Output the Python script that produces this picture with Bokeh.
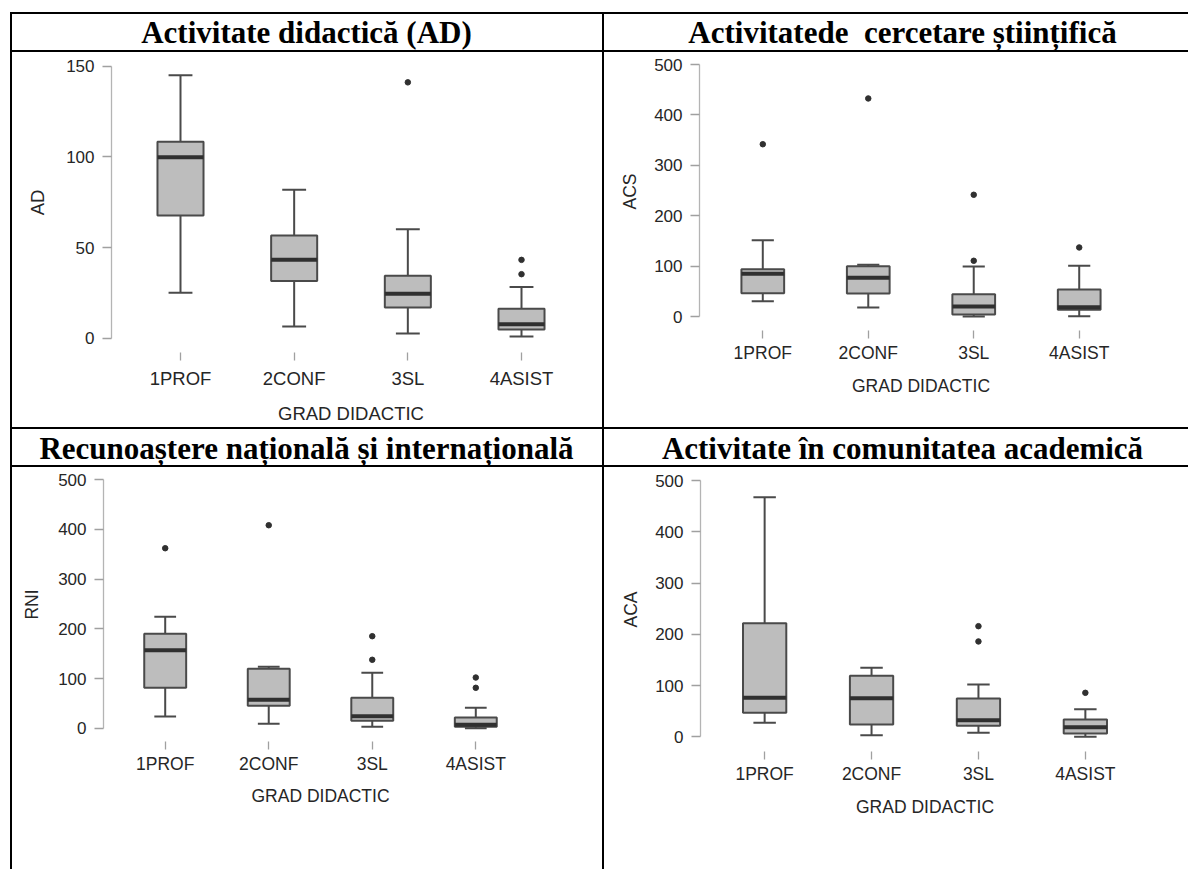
from bokeh.plotting import figure
from bokeh.models import FactorRange, Range1d, FixedTicker, ColumnDataSource, Div, Spacer
from bokeh.layouts import row, column
from bokeh.transform import dodge
from bokeh.embed import file_html
from bokeh.resources import INLINE
from bokeh.core.properties import value

# ---------------- data ----------------
categories = ["1PROF", "2CONF", "3SL", "4ASIST"]
x_label = "GRAD DIDACTIC"
titles = ["Activitate didactică (AD)",
          "Activitatede \u00a0cercetare științifică",
          "Recunoaștere națională și internațională",
          "Activitate în comunitatea academică"]
y_labels = ["AD", "ACS", "RNI", "ACA"]
y_ticks_ad = [0, 50, 100, 150]
y_ticks_500 = [0, 100, 200, 300, 400, 500]

# AD
ad_low = [25.0, 6.4, 2.6, 0.9]
ad_q1 = [67.6, 31.6, 16.9, 4.8]
ad_med = [99.8, 43.2, 24.5, 7.7]
ad_q3 = [108.3, 56.6, 34.4, 16.2]
ad_up = [145.0, 81.8, 60.1, 28.3]
ad_out_cat = ["3SL", "4ASIST", "4ASIST"]
ad_out_val = [141.1, 43.2, 35.3]

# ACS
acs_low = [30.9, 18.4, 0.6, 1.2]
acs_q1 = [46.8, 46.2, 4.6, 13.9]
acs_med = [85.2, 77.3, 20.4, 19.0]
acs_q3 = [94.4, 100.0, 44.8, 54.1]
acs_up = [151.8, 103.0, 99.7, 101.0]
acs_out_cat = ["1PROF", "2CONF", "3SL", "3SL", "4ASIST"]
acs_out_val = [342.0, 432.7, 241.8, 111.0, 137.4]

# RNI
rni_low = [23.5, 8.9, 2.8, 0.0]
rni_q1 = [81.3, 45.1, 14.9, 3.0]
rni_med = [157.0, 57.2, 24.2, 7.0]
rni_q3 = [190.0, 119.6, 61.2, 21.5]
rni_up = [224.2, 123.6, 111.5, 41.0]
rni_out_cat = ["1PROF", "2CONF", "3SL", "3SL", "4ASIST", "4ASIST"]
rni_out_val = [362.3, 408.6, 185.2, 137.7, 102.0, 81.3]

# ACA
aca_low = [27.3, 3.1, 7.8, 0.0]
aca_q1 = [46.8, 24.0, 21.5, 6.4]
aca_med = [76.1, 75.3, 32.4, 18.7]
aca_q3 = [221.6, 119.0, 74.7, 33.8]
aca_up = [467.5, 134.6, 102.0, 53.9]
aca_out_cat = ["3SL", "3SL", "4ASIST"]
aca_out_val = [215.8, 186.0, 85.8]

# ---------------- styles ----------------
BOX_FILL = "#bdbdbd"
BOX_LINE = "#4a4a4a"
MED_LINE = "#303030"
TEXT = "#262626"
AXIS_LINE = "#b4b4b4"
TICK_LINE = "#a0a0a0"
BOX_W = 0.405
CAP_W = 0.21
SANS = "Liberation Sans"
SERIF = "Liberation Serif"


def make_panel(low, q1, med, q3, up, out_cat, out_val, ylab, ticks, geo):
    p = figure(width=geo["w"], height=geo["h"],
               x_range=FactorRange(factors=categories, range_padding=geo["pad"],
                                   range_padding_units="absolute"),
               y_range=Range1d(geo["y0"], geo["y1"]),
               output_backend="svg", toolbar_location=None, tools="",
               min_border_left=geo["bl"], min_border_right=geo["br"],
               min_border_top=0, min_border_bottom=geo["bb"],
               outline_line_color=None, background_fill_color="white",
               border_fill_color="white")
    p.xgrid.visible = False
    p.ygrid.visible = False
    src = ColumnDataSource(dict(cat=categories, low=low, q1=q1, med=med, q3=q3, up=up))
    p.segment(x0="cat", y0="q3", x1="cat", y1="up", source=src, line_color=BOX_LINE, line_width=2)
    p.segment(x0="cat", y0="low", x1="cat", y1="q1", source=src, line_color=BOX_LINE, line_width=2)
    for key in ("up", "low"):
        p.segment(x0=dodge("cat", -CAP_W / 2, range=p.x_range), y0=key,
                  x1=dodge("cat", CAP_W / 2, range=p.x_range), y1=key,
                  source=src, line_color=BOX_LINE, line_width=2)
    p.vbar(x="cat", width=BOX_W, bottom="q1", top="q3", source=src,
           fill_color=BOX_FILL, line_color=BOX_LINE, line_width=2)
    p.segment(x0=dodge("cat", -BOX_W / 2, range=p.x_range), y0="med",
              x1=dodge("cat", BOX_W / 2, range=p.x_range), y1="med",
              source=src, line_color=MED_LINE, line_width=4)
    p.scatter(x=out_cat, y=out_val, size=5.5, color=MED_LINE)

    ya = p.yaxis[0]
    ya.ticker = FixedTicker(ticks=ticks)
    ya.bounds = (ticks[0], ticks[-1])
    ya.axis_line_color = AXIS_LINE
    ya.axis_line_width = 1.3
    ya.major_tick_line_color = TICK_LINE
    ya.major_tick_line_width = 1.3
    ya.major_tick_out = 9
    ya.major_tick_in = 0
    ya.minor_tick_out = 0
    ya.minor_tick_in = 0
    ya.major_label_standoff = 8
    ya.major_label_text_font = SANS
    ya.major_label_text_font_size = "17px"
    ya.major_label_text_color = TEXT
    ya.axis_label = ylab
    ya.axis_label_text_font = SANS
    ya.axis_label_text_font_style = "normal"
    ya.axis_label_text_font_size = geo["fs"]
    ya.axis_label_text_color = TEXT
    ya.axis_label_standoff = geo["ys"]

    xa = p.xaxis[0]
    xa.axis_line_color = None
    xa.major_tick_line_color = TICK_LINE
    xa.major_tick_line_width = 1.3
    xa.major_tick_out = 8
    xa.major_tick_in = 0
    xa.minor_tick_out = 0
    xa.major_label_standoff = geo["ls"]
    xa.major_label_text_font = SANS
    xa.major_label_text_font_size = geo["fs"]
    xa.major_label_text_color = TEXT
    xa.axis_label = x_label
    xa.axis_label_text_font = SANS
    xa.axis_label_text_font_style = "normal"
    xa.axis_label_text_font_size = geo["fs"]
    xa.axis_label_text_color = TEXT
    xa.axis_label_standoff = geo["xs"]
    return p


def make_title(text, w, h, cx, cy):
    t = figure(width=w, height=h, x_range=Range1d(0, w), y_range=Range1d(0, h),
               output_backend="svg", toolbar_location=None, tools="",
               min_border=0, x_axis_location=None, y_axis_location=None,
               outline_line_color=None, background_fill_color="white",
               border_fill_color="white")
    t.grid.visible = False
    t.text(x=[cx], y=[cy], text=[text], text_font=value(SERIF), text_font_style="bold",
           text_font_size="31px", text_align="center", text_baseline="middle",
           text_color="black")
    return t


def line_div(w, h):
    return Div(text="", width=w, height=h, margin=0,
               styles={"background-color": "#000000"})


W1, W2 = 590, 584
HT = 36
H1, H2 = 375, 402
LW = 2
TOTAL = LW + W1 + LW + W2

geo1 = dict(w=W1, h=H1, pad=0.107, y0=-7.89, y1=157.56, bl=99, br=12, bb=75, fs="18.5px", ys=15, ls=7, xs=11)
geo2 = dict(w=W2, h=H1, pad=0.10, y0=-27.2, y1=523.8, bl=95, br=46, bb=97, fs="17.5px", ys=11, ls=4, xs=10)
geo3 = dict(w=W1, h=H2, pad=0.096, y0=-26.8, y1=524.8, bl=91, br=65, bb=128, fs="17.5px", ys=13, ls=4, xs=9)
geo4 = dict(w=W2, h=H2, pad=0.10, y0=-28.7, y1=525.4, bl=96, br=39, bb=118, fs="17.5px", ys=11, ls=4, xs=10)

p1 = make_panel(ad_low, ad_q1, ad_med, ad_q3, ad_up, ad_out_cat, ad_out_val, y_labels[0], y_ticks_ad, geo1)
p2 = make_panel(acs_low, acs_q1, acs_med, acs_q3, acs_up, acs_out_cat, acs_out_val, y_labels[1], y_ticks_500, geo2)
p3 = make_panel(rni_low, rni_q1, rni_med, rni_q3, rni_up, rni_out_cat, rni_out_val, y_labels[2], y_ticks_500, geo3)
p4 = make_panel(aca_low, aca_q1, aca_med, aca_q3, aca_up, aca_out_cat, aca_out_val, y_labels[3], y_ticks_500, geo4)

t1 = make_title(titles[0], W1, HT, 294, 18)
t2 = make_title(titles[1], W2, HT, 298, 18)
t3 = make_title(titles[2], W1, HT, 294, 17.5)
t4 = make_title(titles[3], W2, HT, 298, 17.5)

table = column(
    Spacer(width=TOTAL, height=12),
    line_div(TOTAL, LW),
    row(row(line_div(LW, HT), t1), row(line_div(LW, HT), t2)),
    line_div(TOTAL, LW),
    row(row(line_div(LW, H1), p1), row(line_div(LW, H1), p2)),
    line_div(TOTAL, LW),
    row(row(line_div(LW, HT), t3), row(line_div(LW, HT), t4)),
    line_div(TOTAL, LW),
    row(row(line_div(LW, H2), p3), row(line_div(LW, H2), p4)),
)
layout = row(Spacer(width=10, height=10), table)

open("out.html", "w").write(file_html(layout, INLINE))
